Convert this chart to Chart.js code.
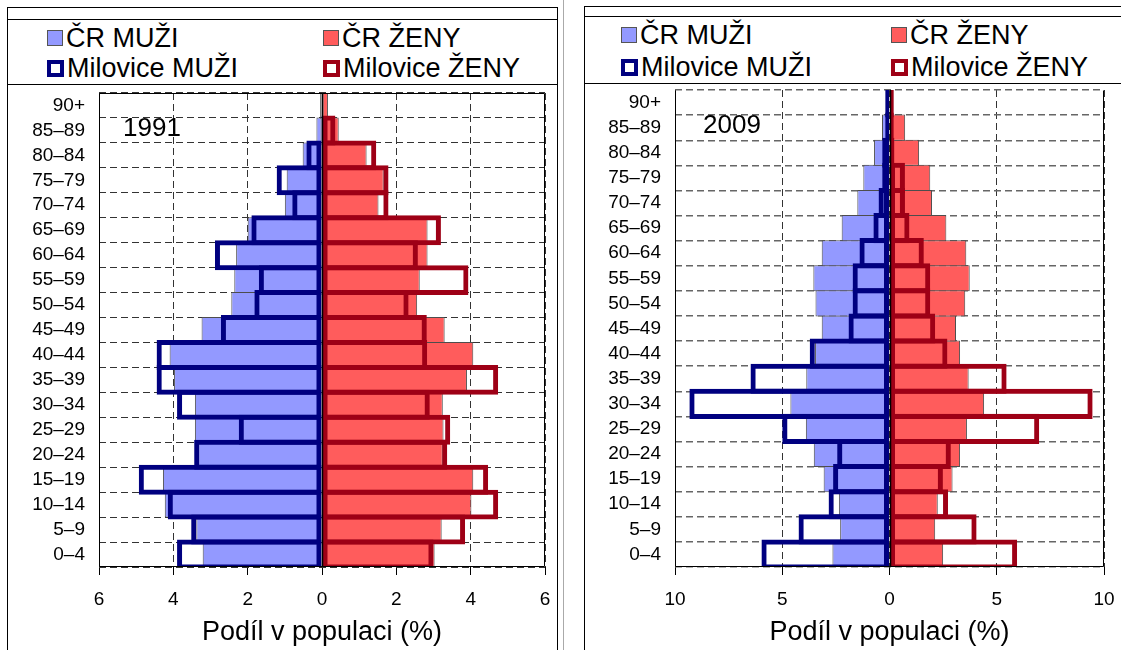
<!DOCTYPE html>
<html>
<head>
<meta charset="utf-8">
<script src="https://cdn.jsdelivr.net/npm/chart.js@4.4.0/dist/chart.umd.min.js"></script>
<style>
  body { margin: 0; width: 1121px; height: 650px; overflow: hidden; background: #fff; position: relative;
         font-family: "Liberation Sans", Arial, sans-serif; }
  .frame { position: absolute; border: 1px solid #000; box-sizing: border-box; }
  .legend { position: absolute; border-top: 1px solid #000; border-bottom: 1px solid #000; box-sizing: border-box; }
  .item { position: absolute; font-size: 27px; line-height: 30px; height: 30px; white-space: nowrap;
          display: flex; align-items: center; color: #000; }
  .box { display: inline-block; box-sizing: border-box; margin-right: 3px; }
  .plot { position: absolute; }
</style>
</head>
<body>
<div class="frame" style="left:7px;top:7px;width:551px;height:700px;"></div>
<div class="legend" id="leg1991" style="left:7px;top:19px;width:551px;height:66px;"></div>
<div class="plot" style="left:8px;top:85px;width:549px;height:565px;"><canvas id="c1991"></canvas></div>

<div style="position:absolute;left:563px;top:0;width:1px;height:650px;background:#aaa;"></div>

<div class="frame" style="left:584px;top:6px;width:600px;height:700px;"></div>
<div class="legend" id="leg2009" style="left:584px;top:16px;width:600px;height:68px;"></div>
<div class="plot" style="left:585px;top:84px;width:536px;height:566px;"><canvas id="c2009"></canvas></div>

<script>
// věkové skupiny odspodu nahoru
const vekoveSkupiny = ["0–4", "5–9", "10–14", "15–19", "20–24", "25–29", "30–34", "35–39", "40–44",
  "45–49", "50–54", "55–59", "60–64", "65–69", "70–74", "75–79", "80–84", "85–89", "90+"];

// 1991 (% populace)
const crMuzi1991 = [3.21, 3.38, 4.23, 4.28, 3.33, 3.42, 3.42, 3.98, 4.10, 3.24, 2.44, 2.36, 2.31, 2.00, 1.00, 0.95, 0.52, 0.15, 0.05];
const crZeny1991 = [3.03, 3.22, 4.02, 4.07, 3.25, 3.27, 3.25, 3.90, 4.07, 3.30, 2.56, 2.63, 2.84, 2.84, 1.52, 1.66, 1.20, 0.45, 0.16];
const milMuzi1991 = [3.90, 3.52, 4.15, 4.93, 3.44, 2.24, 3.90, 4.45, 4.45, 2.72, 1.82, 1.70, 2.88, 1.90, 0.80, 1.22, 0.42, 0.03, 0.00];
const milZeny1991 = [3.00, 3.85, 4.74, 4.47, 3.37, 3.45, 2.90, 4.74, 2.83, 2.82, 2.33, 3.94, 2.58, 3.20, 1.79, 1.79, 1.46, 0.36, 0.00];

// 2009 (% populace)
const crMuzi2009 = [2.66, 2.30, 2.36, 3.07, 3.53, 3.90, 4.62, 3.88, 3.47, 3.16, 3.45, 3.55, 3.16, 2.23, 1.50, 1.22, 0.72, 0.35, 0.10];
const crZeny2009 = [2.50, 2.13, 2.25, 2.94, 3.29, 3.61, 4.41, 3.69, 3.29, 3.10, 3.53, 3.74, 3.58, 2.65, 1.98, 1.90, 1.38, 0.73, 0.18];
const milMuzi2009 = [5.97, 4.24, 2.84, 2.63, 2.44, 5.00, 9.33, 6.48, 3.72, 1.91, 1.72, 1.72, 1.40, 0.75, 0.51, 0.34, 0.34, 0.20, 0.20];
const milZeny2009 = [5.95, 4.06, 2.73, 2.49, 2.86, 6.98, 9.47, 5.46, 2.70, 2.13, 1.90, 1.90, 1.60, 0.93, 0.72, 0.72, 0.23, 0.20, 0.20];

// osa x: rozsah a krok popisků
const osa1991 = { max: 6, krok: 2 };
const osa2009 = { max: 10, krok: 5 };

Chart.defaults.font.family = '"Liberation Sans", Arial, sans-serif';
Chart.defaults.color = "#000";

// rámeček plochy, osa v nule a letopočet
const ramecek = {
  id: "ramecek",
  afterDatasetsDraw(chart, args, o) {
    const { ctx, chartArea: a } = chart;
    const x0 = Math.round(chart.scales.x.getPixelForValue(0)) + 0.5;
    ctx.save();
    ctx.strokeStyle = "#000";
    ctx.lineWidth = 1.5;
    ctx.beginPath();
    ctx.moveTo(x0, a.top);
    ctx.lineTo(x0, a.bottom);
    ctx.stroke();
    ctx.lineWidth = 1;
    const l = Math.round(a.left) + 0.5, r = Math.round(a.right) - 0.5;
    const t = Math.round(a.top) + 0.5, b = Math.round(a.bottom) - 0.5;
    ctx.beginPath();
    if (o.horni) { ctx.moveTo(l, t); ctx.lineTo(r, t); }
    ctx.moveTo(l, t); ctx.lineTo(l, b); ctx.lineTo(r, b); ctx.lineTo(r, t);
    ctx.stroke();
    ctx.font = '26px "Liberation Sans", Arial, sans-serif';
    ctx.fillStyle = "#000";
    ctx.textBaseline = "middle";
    ctx.fillText(o.rok, a.left + o.dx, a.top + 36);
    ctx.restore();
  }
};

function pyramida(id, rok, muzi, zeny, milMuzi, milZeny, osa, nast) {
  return new Chart(document.getElementById(id), {
    type: "bar",
    data: {
      labels: vekoveSkupiny,
      datasets: [
        { label: "ČR MUŽI", data: muzi.map(v => -v), backgroundColor: "#9399ff", borderColor: "#4d4d4d",
          borderWidth: 1, borderSkipped: false, barPercentage: 1.04, categoryPercentage: 1, grouped: false, order: 2 },
        { label: "ČR ŽENY", data: zeny, backgroundColor: "#ff5c5c", borderColor: "#4d4d4d",
          borderWidth: 1, borderSkipped: false, barPercentage: 1.04, categoryPercentage: 1, grouped: false, order: 2 },
        { label: "Milovice MUŽI", data: milMuzi.map(v => -v), backgroundColor: "rgba(0,0,0,0)", borderColor: "#000080",
          borderWidth: 5, borderSkipped: false, barPercentage: 1.2, categoryPercentage: 1, grouped: false, order: 1 },
        { label: "Milovice ŽENY", data: milZeny, backgroundColor: "rgba(0,0,0,0)", borderColor: "#9e0016",
          borderWidth: 5, borderSkipped: false, barPercentage: 1.2, categoryPercentage: 1, grouped: false, order: 1 }
      ]
    },
    options: {
      indexAxis: "y",
      responsive: true,
      maintainAspectRatio: false,
      animation: false,
      layout: { padding: { top: nast.top, right: nast.right, left: 0, bottom: 0 } },
      plugins: {
        legend: { display: false },
        tooltip: { enabled: false },
        ramecek: { rok: rok, horni: nast.horni, dx: nast.dx }
      },
      scales: {
        x: {
          min: -osa.max,
          max: osa.max,
          ticks: { stepSize: osa.krok, callback: v => Math.abs(v), font: { size: 19 }, padding: 13, maxRotation: 0 },
          grid: { color: "#333", tickColor: "#000", tickLength: 8 },
          border: { display: false, dash: [7, 4] },
          title: { display: true, text: "Podíl v populaci (%)", font: { size: 27 }, padding: { top: 0, bottom: 1 } },
          afterFit: s => { s.height = 83; s.paddingLeft = 0; s.paddingRight = 0; }
        },
        y: {
          reverse: true,
          ticks: { font: { size: 19 }, padding: 14, autoSkip: false },
          grid: { offset: true, color: nast.mrizka, lineWidth: nast.tloustka, drawTicks: false },
          border: { display: false, dash: [7, 4] },
          afterFit: s => { s.width = nast.osaY; s.paddingTop = 0; s.paddingBottom = 0; }
        }
      }
    },
    plugins: [ramecek]
  });
}

function legenda(elId, chart, sloupce, radky) {
  const el = document.getElementById(elId);
  const poradi = ["ČR MUŽI", "ČR ŽENY", "Milovice MUŽI", "Milovice ŽENY"];
  poradi.forEach((nazev, i) => {
    const ds = chart.data.datasets.find(d => d.label === nazev);
    const item = document.createElement("div");
    item.className = "item";
    item.style.left = sloupce[i % 2] + "px";
    item.style.top = (radky[Math.floor(i / 2)] - 15) + "px";
    const box = document.createElement("span");
    box.className = "box";
    if (ds.borderWidth > 1) {
      box.style.width = "17px"; box.style.height = "17px";
      box.style.border = "4px solid " + ds.borderColor; box.style.background = "#fff";
    } else {
      box.style.width = "16px"; box.style.height = "16px";
      box.style.border = "1px solid #555"; box.style.background = ds.backgroundColor;
    }
    item.appendChild(box);
    item.appendChild(document.createTextNode(nazev));
    el.appendChild(item);
  });
}

const g1991 = pyramida("c1991", "1991", crMuzi1991, crZeny1991, milMuzi1991, milZeny1991, osa1991,
  { top: 8, right: 12, osaY: 91, horni: true, dx: 24, mrizka: "#333", tloustka: 1 });
const g2009 = pyramida("c2009", "2009", crMuzi2009, crZeny2009, milMuzi2009, milZeny2009, osa2009,
  { top: 6, right: 17, osaY: 90, horni: false, dx: 28, mrizka: "#666", tloustka: 1.4 });

legenda("leg1991", g1991, [40, 316], [18, 48]);
legenda("leg2009", g2009, [37, 307], [18, 50]);
</script>
</body>
</html>
